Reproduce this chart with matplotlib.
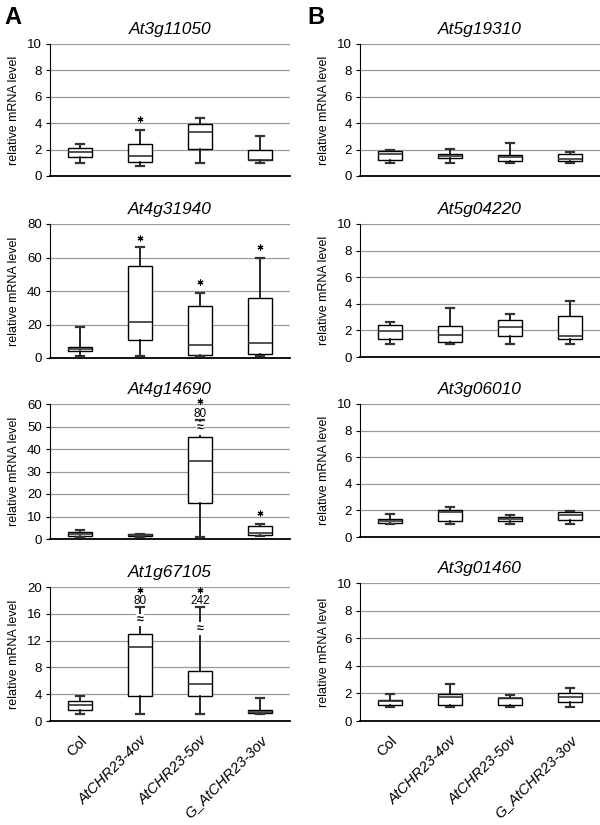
import matplotlib
matplotlib.use("Agg")
import matplotlib.pyplot as plt

plt.rcParams['font.family'] = ['Liberation Sans', 'DejaVu Sans']

lines = ["Col", "AtCHR23-4ov", "AtCHR23-5ov", "G_AtCHR23-3ov"]

# box stats per gene: [whisker low, q1, median, q3, whisker high] for each line
genes_a = ["At3g11050", "At4g31940", "At4g14690", "At1g67105"]
genes_b = ["At5g19310", "At5g04220", "At3g06010", "At3g01460"]

stats_a = [
    [[1.0, 1.45, 1.8, 2.1, 2.45], [0.76, 1.04, 1.5, 2.46, 3.45],
     [0.96, 2.05, 3.37, 3.95, 4.38], [0.96, 1.19, 1.25, 2.0, 3.06]],
    [[1.0, 4.0, 5.2, 6.6, 18.6], [1.0, 11.0, 21.6, 55.0, 66.0],
     [1.0, 2.0, 8.0, 31.0, 39.0], [1.0, 2.4, 9.0, 36.0, 60.0]],
    [[1.0, 1.5, 2.2, 3.0, 4.0], [0.8, 1.2, 1.6, 2.2, 2.4],
     [1.0, 15.9, 34.8, 45.5, 52.9], [1.2, 1.8, 2.7, 5.6, 6.7]],
    [[1.04, 1.6, 2.4, 3.0, 3.8], [1.0, 3.8, 11.0, 13.0, 17.0],
     [1.0, 3.7, 5.5, 7.5, 17.0], [1.0, 1.2, 1.4, 1.6, 3.5]],
]
stats_b = [
    [[0.99, 1.19, 1.7, 1.9, 2.0], [0.99, 1.39, 1.54, 1.67, 2.08],
     [0.99, 1.11, 1.47, 1.57, 2.48], [0.99, 1.16, 1.29, 1.65, 1.85]],
    [[1.0, 1.38, 1.96, 2.39, 2.6], [1.0, 1.1, 1.68, 2.36, 3.72],
     [1.0, 1.56, 2.26, 2.81, 3.2], [1.0, 1.36, 1.56, 3.09, 4.2]],
    [[1.0, 1.05, 1.22, 1.35, 1.72], [1.0, 1.22, 1.85, 2.0, 2.25],
     [1.0, 1.2, 1.38, 1.52, 1.68], [1.0, 1.3, 1.65, 1.85, 1.95]],
    [[1.02, 1.14, 1.43, 1.55, 1.97], [1.02, 1.14, 1.77, 1.97, 2.69],
     [1.02, 1.16, 1.65, 1.7, 1.92], [1.02, 1.41, 1.75, 2.04, 2.4]],
]

ymax_a = [10, 80, 60, 20]
ystep_a = [2, 20, 10, 4]

# significance stars (panel, line index, y)
stars_a = [(0, 1, 4.35), (1, 1, 71.8), (1, 2, 45.5), (1, 3, 66.0),
           (2, 2, 61.5), (2, 3, 11.4), (3, 1, 19.55), (3, 2, 19.55)]
# truncated whiskers: (panel, line index, label, label y, break y)
breaks_a = [(2, 2, "80", 55.4, 49.2), (3, 1, "80", 17.9, 15.1),
            (3, 2, "242", 17.9, 13.8)]

W, H = 600, 825
fig = plt.figure(figsize=(W / 100, H / 100), dpi=100)

rows_a = [(44, 176), (224, 358), (404, 539), (587, 721)]
rows_b = [(44, 176), (224, 357), (404, 537), (583, 721)]


def draw_panel(left, right, top, bottom, gene, stats, ymax, ystep, show_x):
    ax = fig.add_axes([left / W, 1 - bottom / H, (right - left) / W, (bottom - top) / H])
    bxs = []
    for i, s in enumerate(stats):
        bxs.append(dict(whislo=s[0], q1=s[1], med=s[2], q3=s[3], whishi=s[4],
                        fliers=[], label=lines[i]))
    ax.bxp(bxs, positions=range(1, 5), widths=0.4, capwidths=0.12,
           showfliers=False, patch_artist=True,
           boxprops=dict(facecolor="white", edgecolor="black", linewidth=1.0),
           medianprops=dict(color="#333333", linewidth=1.2),
           whiskerprops=dict(color="black", linewidth=1.2),
           capprops=dict(color="#333333", linewidth=1.6), zorder=3)
    ax.set_xlim(0.5, 4.5)
    ax.set_ylim(0, ymax)
    ax.set_yticks(range(0, ymax + 1, ystep))
    ax.yaxis.grid(True, color="#9a9a9a", linewidth=0.9)
    ax.set_axisbelow(True)
    for sp in ["top", "right"]:
        ax.spines[sp].set_visible(False)
    ax.spines["bottom"].set_linewidth(1.3)
    ax.spines["left"].set_linewidth(0.8)
    ax.tick_params(axis="y", labelsize=9.5, length=3, width=0.8, pad=3)
    ax.tick_params(axis="x", length=0)
    ax.set_ylabel("relative mRNA level", fontsize=9, labelpad=5)
    ax.set_title(gene, fontsize=12.5, style="italic", pad=7)
    if show_x:
        ax.set_xticks(range(1, 5))
        labels = ax.set_xticklabels(lines, rotation=45, ha="right", va="top",
                                    rotation_mode="anchor", fontsize=10.5)
        for lab in labels[1:]:
            lab.set_style("italic")
        ax.tick_params(axis="x", pad=9)
    else:
        ax.set_xticks([])
    return ax


axes_a = []
for k in range(4):
    t, b = rows_a[k]
    axes_a.append(draw_panel(50, 290, t, b, genes_a[k], stats_a[k],
                             ymax_a[k], ystep_a[k], k == 3))
for k in range(4):
    t, b = rows_b[k]
    draw_panel(360, 600, t, b, genes_b[k], stats_b[k], 10, 2, k == 3)

for p, i, y in stars_a:
    axes_a[p].plot([i + 1], [y], marker=(6, 2, 0), markersize=4.2,
                   markeredgewidth=0.8, color="black", clip_on=False, zorder=6)
for p, i, lab, ly, by in breaks_a:
    ax = axes_a[p]
    ax.text(i + 1, ly, lab, ha="center", va="center", fontsize=8.5)
    ax.text(i + 1, by, "≈", ha="center", va="center", fontsize=9,
            fontweight="bold", zorder=5,
            bbox=dict(facecolor="white", edgecolor="none", pad=0.2))

fig.text(4 / W, 1 - 18 / H, "A", fontsize=17, fontweight="bold", va="center")
fig.text(307 / W, 1 - 18 / H, "B", fontsize=17, fontweight="bold", va="center")

fig.savefig("out.png", dpi=100)
